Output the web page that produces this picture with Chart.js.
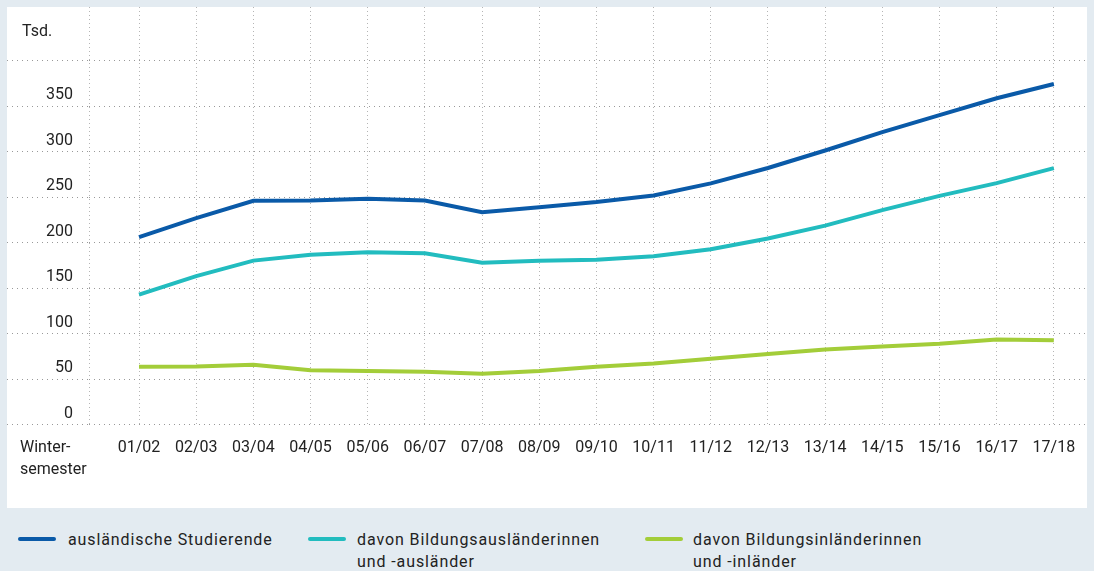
<!DOCTYPE html>
<html><head><meta charset="utf-8">
<script src="https://cdn.jsdelivr.net/npm/chart.js@4.4.0/dist/chart.umd.min.js"></script>
<style>
html,body{margin:0;padding:0;background:#e3ebf1;width:1094px;height:571px;overflow:hidden;font-family:Roboto,sans-serif;}
#panel{position:absolute;left:7px;top:7px;width:1080px;height:501px;background:#fff;}
canvas{display:block;}
.leg{position:absolute;font-size:16px;color:#222;line-height:22px;letter-spacing:0.9px;white-space:nowrap;}
.sw{position:absolute;height:4px;border-radius:2px;}
</style></head><body>
<div id="panel"><canvas id="c" width="1080" height="501"></canvas></div>
<div class="sw" style="left:18px;top:537px;width:38px;background:#0a5aa8"></div>
<div class="leg" style="left:68px;top:529px">ausländische Studierende</div>
<div class="sw" style="left:308px;top:537px;width:38px;background:#22bcbf"></div>
<div class="leg" style="left:357px;top:529px">davon Bildungsausländerinnen<br>und -ausländer</div>
<div class="sw" style="left:645px;top:537px;width:38px;background:#a3cd39"></div>
<div class="leg" style="left:693px;top:529px">davon Bildungsinländerinnen<br>und -inländer</div>
<script>
const categories = ["01/02","02/03","03/04","04/05","05/06","06/07","07/08","08/09","09/10","10/11","11/12","12/13","13/14","14/15","15/16","16/17","17/18"];
const auslaendischeStudierende = [206.1,227.0,246.1,246.3,248.4,246.4,233.6,239.1,244.8,252.0,265.3,282.2,301.4,321.6,340.3,358.9,374.6];
const bildungsauslaender = [142.8,163.2,180.3,186.7,189.5,188.4,177.9,180.2,181.2,185.0,192.9,204.6,218.8,235.9,251.5,265.5,282.0];
const bildungsinlaender = [63.4,63.8,65.8,59.7,58.9,57.9,55.8,58.9,63.5,67.1,72.4,77.6,82.5,85.7,88.8,93.4,92.6];
const yGridValues = [0,50,100,150,200,250,300,350,400];
const yLabelValues = [0,50,100,150,200,250,300,350];

const FONT = {family:'Roboto', size:16};
const toPts = arr => arr.map((v,i)=>({x:i,y:v}));
const X_MIN = -0.875, X_MAX = 16.58;

const extras = {
  id:'extras',
  afterDraw(chart){
    const ctx = chart.ctx;
    ctx.save();
    ctx.fillStyle = '#222';
    ctx.font = '16px Roboto';
    ctx.textAlign = 'left';
    ctx.textBaseline = 'middle';
    ctx.fillText('Tsd.', 15, 25);
    ctx.fillText('Winter-', 13, 441);
    ctx.fillText('semester', 13, 463);
    ctx.restore();
  }
};

new Chart(document.getElementById('c'), {
  type:'line',
  data:{
    datasets:[
      {label:'ausländische Studierende', data:toPts(auslaendischeStudierende), borderColor:'#0a5aa8', borderWidth:4, pointRadius:0, tension:0},
      {label:'davon Bildungsausländerinnen und -ausländer', data:toPts(bildungsauslaender), borderColor:'#22bcbf', borderWidth:4, pointRadius:0, tension:0},
      {label:'davon Bildungsinländerinnen und -inländer', data:toPts(bildungsinlaender), borderColor:'#a3cd39', borderWidth:4, pointRadius:0, tension:0}
    ]
  },
  options:{
    responsive:false, animation:false,
    layout:{padding:0},
    plugins:{legend:{display:false}, tooltip:{enabled:false}},
    scales:{
      x:{
        type:'linear', min:X_MIN, max:X_MAX,
        afterBuildTicks(s){ s.ticks = [{value:X_MIN}].concat(categories.map((c,i)=>({value:i})), [{value:X_MAX}]); },
        afterFit(s){ s.height = 83.5; },
        ticks:{callback:(v)=> Number.isInteger(v) ? categories[v] : '', color:'#222', font:FONT, padding:0, maxRotation:0, autoSkip:false},
        grid:{color:(c)=> (c.tick && c.tick.value===X_MAX) ? 'rgba(0,0,0,0)' : '#b5b5b5', drawTicks:true, tickLength:14, tickColor:'rgba(0,0,0,0)', lineWidth:1},
        border:{display:false, dash:[1,3]}
      },
      y:{
        type:'linear', min:0, max:459.3,
        afterBuildTicks(s){ s.ticks = yGridValues.map(v=>({value:v})); },
        afterFit(s){ s.width = 82; },
        ticks:{callback:(v)=> yLabelValues.includes(v) ? String(v) : '', color:'#222', font:FONT, padding:-66, labelOffset:-11},
        grid:{color:'#999999', tickBorderDash:[1,4], tickColor:'#999999', tickLength:82, drawTicks:true, lineWidth:1},
        border:{display:false, dash:[1,4]}
      }
    }
  },
  plugins:[extras]
});
</script>
</body></html>
